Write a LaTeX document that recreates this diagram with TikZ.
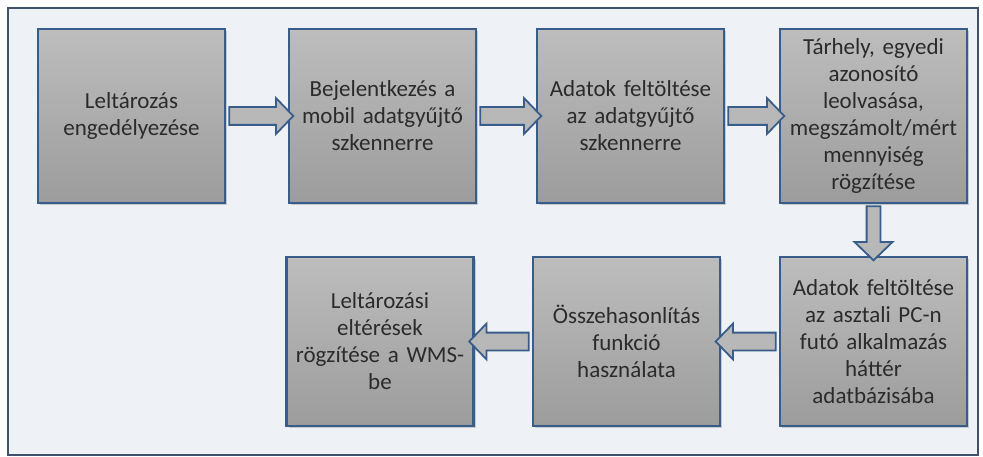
\documentclass[tikz,border=0pt]{standalone}
\usepackage{fontspec}
\setmainfont{Carlito}
\usetikzlibrary{shapes.arrows,shadows}
\definecolor{bgfill}{HTML}{EEF2F7}
\definecolor{frameline}{HTML}{3F516B}
\definecolor{stepline}{HTML}{385D8A}
\definecolor{steptop}{HTML}{BDBDBD}
\definecolor{stepbot}{HTML}{9C9C9C}
\definecolor{steptext}{HTML}{2B2B2B}
\definecolor{arrowfill}{HTML}{B8B8B8}
\tikzset{
  stepbox/.style={draw=stepline, line width=2.2pt, top color=steptop, bottom color=stepbot,
    minimum width=187pt, minimum height=#1, inner sep=3pt, text width=180pt, align=center,
    text=steptext, font=\fontsize{23}{27}\selectfont,
    drop shadow={shadow xshift=2pt, shadow yshift=-2pt, opacity=0.35}},
  stepbox/.default=174pt,
  flowarrow/.style={single arrow, draw=stepline, line width=1.8pt, fill=arrowfill,
    minimum height=#1, inner xsep=0pt, inner ysep=8pt, single arrow head extend=9pt,
    single arrow tip angle=92, sloped, allow upside down, midway}
}
\begin{document}
\begin{tikzpicture}[x=1pt,y=-1pt]
\useasboundingbox (0,0) rectangle (983,457);
\draw[frameline, line width=1.8pt, fill=bgfill] (8,8) rectangle (978,455);
% upper row
\node[stepbox] (leltar) at (131.5,116) {Leltározás\\engedélyezése};
\node[stepbox] (bejel) at (382.5,116) {Bejelentkezés a\\mobil adatgyűjtő\\szkennerre};
\node[stepbox] (feltolt) at (630.5,116) {Adatok feltöltése\\az adatgyűjtő\\szkennerre};
\node[stepbox] (tarhely) at (873.5,116) {Tárhely, egyedi\\azonosító\\leolvasása,\\megszámolt/mért\\mennyiség\\rögzítése};
% lower row
\node[stepbox=169pt] (pcfel) at (873.5,341.5) {Adatok feltöltése\\az asztali PC-n\\futó alkalmazás\\háttér\\adatbázisába};
\node[stepbox=169pt] (osszeh) at (626.5,341.5) {Összehasonlítás\\funkció\\használata};
\node[stepbox=169pt] (wms) at (380,341.5) {Leltározási\\eltérések\\rögzítése a WMS-\\be};
% arrows
\path (leltar.east) -- node[flowarrow=64pt]{} (bejel.west);
\path (bejel.east) -- node[flowarrow=61pt]{} (feltolt.west);
\path (feltolt.east) -- node[flowarrow=56pt]{} (tarhely.west);
\path (tarhely.south) -- node[flowarrow=54pt, inner ysep=6pt, single arrow head extend=12pt]{} (pcfel.north);
\path (pcfel.west) -- node[flowarrow=60pt]{} (osszeh.east);
\path (osszeh.west) -- node[flowarrow=59.5pt]{} (wms.east);
\end{tikzpicture}
\end{document}
